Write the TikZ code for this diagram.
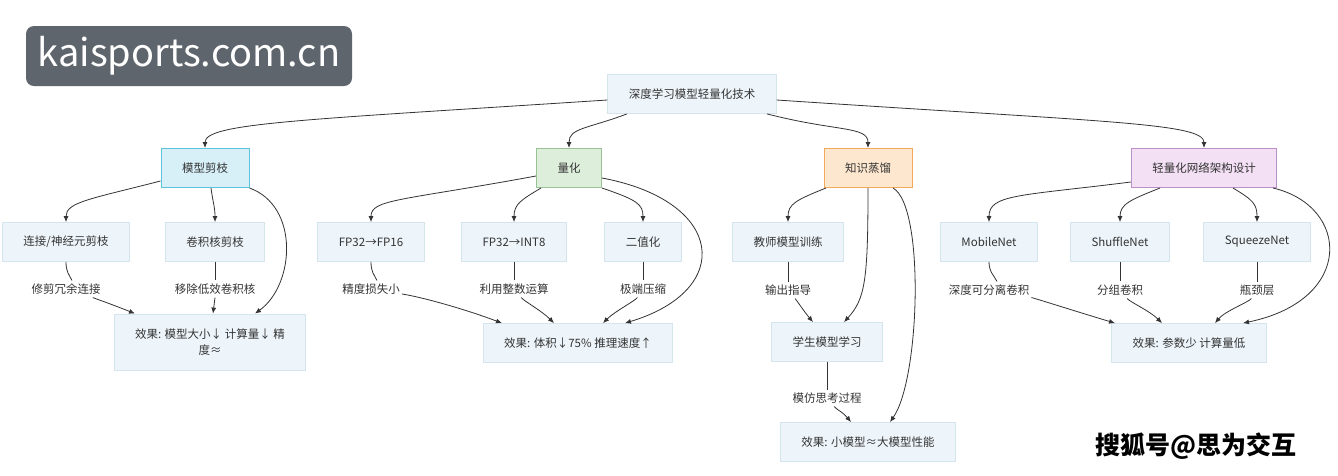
\documentclass[tikz,border=0pt]{standalone}
\usepackage{fontspec}
\newfontfamily\cjk{Noto Sans CJK SC}
\usetikzlibrary{arrows.meta,positioning}
\definecolor{ink}{HTML}{333333}
\definecolor{boxfill}{HTML}{EEF5FA}
\definecolor{boxline}{HTML}{D5E5EE}
\definecolor{prunefill}{HTML}{D7F0F8}
\definecolor{pruneline}{HTML}{5EC3DD}
\definecolor{quantfill}{HTML}{DDEFDB}
\definecolor{quantline}{HTML}{98C295}
\definecolor{distillfill}{HTML}{FDE8CF}
\definecolor{distillline}{HTML}{F2AA5A}
\definecolor{archfill}{HTML}{F3E0F4}
\definecolor{archline}{HTML}{BB8FC8}
\definecolor{badgegray}{HTML}{5E656C}

\begin{document}
\begin{tikzpicture}[x=1pt, y=-1pt, node distance=74pt, font=\cjk\fontsize{11.5}{16}\selectfont,
  box/.style = {draw=boxline, fill=boxfill, text=ink, line width=0.8pt, inner xsep=21pt, inner ysep=0pt, minimum height=39pt},
  prunebox/.style = {box, draw=pruneline, fill=prunefill, line width=1pt},
  quantbox/.style = {box, draw=quantline, fill=quantfill, line width=1pt},
  distillbox/.style = {box, draw=distillline, fill=distillfill, line width=1pt},
  archbox/.style = {box, draw=archline, fill=archfill, line width=1pt},
  lbl/.style = {text=ink, inner xsep=2pt, inner ysep=3pt},
  link/.style = {draw=ink, line width=0.8pt},
  arr/.style = {link, -{Latex[length=6pt,width=5pt]}},
  badge/.style = {fill=badgegray, text=white, rounded corners=8pt, minimum width=326pt, minimum height=60pt, font=\cjk\fontsize{38}{38}\selectfont},
  wmtext/.style = {text=black, font=\cjk\bfseries\fontsize{25}{27}\selectfont}]
		\useasboundingbox[fill=white] (0,0) rectangle (1338,475);

		\node[badge] (site) at (189,56) {kaisports.com.cn};

		\node[box] (root) at (692,94) {深度学习模型轻量化技术};
		\node[prunebox, xshift=-487pt] (prune) [below of=root] {模型剪枝};
		\node[quantbox, xshift=-123pt] (quant) [below of=root] {量化};
		\node[distillbox, xshift=176pt] (distill) [below of=root] {知识蒸馏};
		\node[archbox, xshift=512pt] (arch) [below of=root] {轻量化网络架构设计};

		\node[box, xshift=-139pt] (conn) [below of=prune] {连接/神经元剪枝};
		\node[box, xshift=10pt] (kernel) [below of=prune] {卷积核剪枝};
		\node[box, xshift=-198pt] (fp16) [below of=quant] {FP32→FP16};
		\node[box, xshift=-55pt] (int8) [below of=quant] {FP32→INT8};
		\node[box, xshift=74pt] (binary) [below of=quant] {二值化};
		\node[box, xshift=-80pt] (teacher) [below of=distill] {教师模型训练};
		\node[box, xshift=-215pt] (mobile) [below of=arch] {MobileNet};
		\node[box, xshift=-84pt] (shuffle) [below of=arch] {ShuffleNet};
		\node[box, xshift=53pt] (squeeze) [below of=arch] {SqueezeNet};

		\node[lbl, node distance=47pt] (l1) [below of=conn] {修剪冗余连接};
		\node[lbl, node distance=47pt] (l2) [below of=kernel] {移除低效卷积核};
		\node[lbl, node distance=47pt] (l3) [below of=fp16] {精度损失小};
		\node[lbl, node distance=47pt] (l4) [below of=int8] {利用整数运算};
		\node[lbl, node distance=47pt] (l5) [below of=binary] {极端压缩};
		\node[lbl, node distance=48pt] (l6) [below of=teacher] {输出指导};
		\node[lbl, node distance=48pt] (l8) [below of=mobile] {深度可分离卷积};
		\node[lbl, node distance=48pt] (l9) [below of=shuffle] {分组卷积};
		\node[lbl, node distance=48pt] (l10) [below of=squeeze] {瓶颈层};

		\node[box, node distance=100pt, xshift=-5pt, align=center, minimum width=187pt, minimum height=56pt] (pruneeff) [below of=kernel] {效果: 模型大小↓ 计算量↓ 精\\度≈};
		\node[box, node distance=101pt, xshift=64pt] (quanteff) [below of=int8] {效果: 体积↓75\% 推理速度↑};
		\node[box, node distance=100pt, xshift=39pt] (student) [below of=teacher] {学生模型学习};
		\node[lbl, node distance=56pt] (l7) [below of=student] {模仿思考过程};
		\node[box, node distance=100pt, xshift=41pt] (distilleff) [below of=student] {效果: 小模型≈大模型性能};
		\node[box, node distance=101pt, xshift=69pt] (archeff) [below of=shuffle] {效果: 参数少 计算量低};

		\node[wmtext] (sohu) at (1196,446) {搜狐号@思为交互};

		\draw[arr] ([yshift=-6pt]root.west) .. controls +(-307,20) and +(0,-25) .. (prune.north);
		\draw[arr] ([xshift=-65pt]root.south) .. controls +(-40,15) and +(0,-20) .. (quant.north);
		\draw[arr] ([xshift=75pt]root.south) .. controls +(70,18) and +(0,-22) .. (distill.north);
		\draw[arr] ([yshift=-6pt]root.east) .. controls +(330,22) and +(0,-25) .. (arch.north);

		\draw[arr] ([yshift=-13pt]prune.west) .. controls +(-70,18) and +(0,-20) .. (conn.north);
		\draw[arr] ([xshift=6pt]prune.south) .. controls +(2,15) and +(0,-15) .. (kernel.north);
		\draw[arr] (prune.south east) .. controls +(50,18) and +(40,-29) .. ([xshift=45pt]pruneeff.north);
		\draw[link] (conn.south) .. controls +(0,10) and +(-3,-6) .. ([xshift=6pt]l1.north);
		\draw[arr] (l1) .. controls +(25,8) and +(-25,-10) .. ([xshift=-75pt]pruneeff.north);
		\draw[link] (kernel.south) -- (l2.north);
		\draw[arr] (l2.south) -- ([xshift=3pt]pruneeff.north);

		\draw[arr] ([yshift=-8pt]quant.west) .. controls +(-136,25) and +(0,-23) .. (fp16.north);
		\draw[arr] ([xshift=-28pt]quant.south) .. controls +(-20,12) and +(0,-18) .. (int8.north);
		\draw[arr] (quant.south east) .. controls +(35,12) and +(0,-18) .. (binary.north);
		\draw[arr] ([yshift=-10pt]quant.east) .. controls +(123,23) and +(110,-33) .. ([xshift=47pt]quanteff.north);
		\draw[link] (fp16.south) .. controls +(0,10) and +(-3,-6) .. ([xshift=6pt]l3.north);
		\draw[arr] (l3) .. controls +(50,8) and +(-40,-15) .. ([xshift=-76pt]quanteff.north);
		\draw[link] (int8.south) -- (l4.north);
		\draw[arr] (l4) .. controls +(10,12) and +(-12,-12) .. ([xshift=-24pt]quanteff.north);
		\draw[link] (binary.south) -- (l5.north);
		\draw[arr] (l5) .. controls +(-8,12) and +(12,-12) .. ([xshift=25pt]quanteff.north);

		\draw[arr] ([xshift=-42pt]distill.south) .. controls +(-30,12) and +(0,-18) .. (teacher.north);
		\draw[arr] (distill.south) .. controls +(0,93) and +(21,-23) .. ([xshift=17pt]student.north);
		\draw[arr] ([xshift=25pt]distill.south) .. controls +(32,18) and +(30,-43) .. ([xshift=22pt]distilleff.north);
		\draw[link] (teacher.south) -- (l6.north);
		\draw[arr] (l6) .. controls +(10,12) and +(-10,-12) .. ([xshift=-14pt]student.north);
		\draw[link] (student.south) -- (l7.north);
		\draw[arr] (l7) .. controls +(10,12) and +(-8,-10) .. ([xshift=-17pt]distilleff.north);

		\draw[arr] ([yshift=-14pt]arch.west) .. controls +(-111,14) and +(0,-28) .. (mobile.north);
		\draw[arr] ([xshift=-44pt]arch.south) .. controls +(-30,12) and +(0,-18) .. (shuffle.north);
		\draw[arr] ([xshift=29pt]arch.south) .. controls +(20,12) and +(0,-18) .. (squeeze.north);
		\draw[arr] ([xshift=69pt]arch.south) .. controls +(77,18) and +(112,-23) .. ([xshift=54pt]archeff.north);
		\draw[link] (mobile.south) .. controls +(0,10) and +(-3,-6) .. ([xshift=8pt]l8.north);
		\draw[arr] (l8) .. controls +(45,8) and +(-40,-12) .. ([xshift=-74pt]archeff.north);
		\draw[link] (shuffle.south) -- (l9.north);
		\draw[arr] (l9) .. controls +(10,12) and +(-12,-12) .. ([xshift=-27pt]archeff.north);
		\draw[link] (squeeze.south) -- (l10.north);
		\draw[arr] (l10) .. controls +(-8,12) and +(10,-12) .. ([xshift=26pt]archeff.north);
	\end{tikzpicture}
\end{document}
